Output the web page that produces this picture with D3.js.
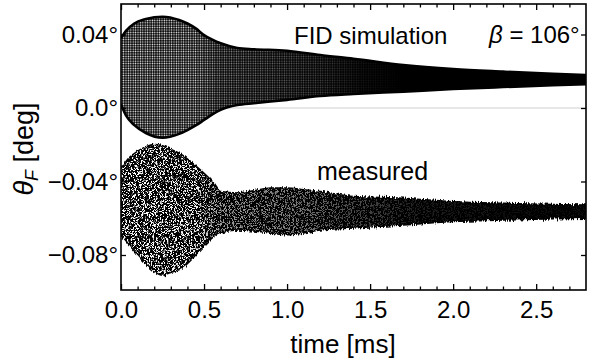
<!DOCTYPE html>
<html>
<head>
<meta charset="utf-8">
<script src="https://cdn.jsdelivr.net/npm/d3@7"></script>
<style>
  body { margin: 0; background: #fff; }
  svg { display: block; font-family: "Liberation Sans", Arial, Helvetica, sans-serif; }
</style>
</head>
<body>
<svg id="chart" width="600" height="360"></svg>
<script>
// Simulated FID: envelope of the oscillating Faraday rotation (degrees)
const simTime  = [0, 0.03, 0.08, 0.15, 0.25, 0.35, 0.4, 0.45, 0.5, 0.55, 0.6, 0.7, 0.8, 1.0, 1.2, 1.4, 1.7, 2.0, 2.3, 2.6, 2.8];
const simUpper = [0.038, 0.042, 0.046, 0.0484, 0.0497, 0.0479, 0.046, 0.0433, 0.0397, 0.0372, 0.0352, 0.0327, 0.032, 0.0312, 0.0288, 0.0268, 0.0234, 0.0212, 0.0198, 0.0186, 0.018];
const simLower = [0.002, -0.004, -0.0093, -0.0136, -0.0162, -0.0141, -0.012, -0.0095, -0.0065, -0.0035, -0.001, 0.0016, 0.0026, 0.0044, 0.0065, 0.0076, 0.0089, 0.0103, 0.0114, 0.0124, 0.0129];

// Measured FID: envelope of the recorded signal (degrees)
const measTime  = [0, 0.05, 0.1, 0.15, 0.2, 0.25, 0.3, 0.37, 0.43, 0.49, 0.55, 0.6, 0.7, 0.8, 0.9, 1.0, 1.1, 1.2, 1.4, 1.7, 2.0, 2.3, 2.6, 2.8];
const measUpper = [-0.033, -0.027, -0.0235, -0.021, -0.0198, -0.0205, -0.0225, -0.0256, -0.030, -0.0347, -0.040, -0.0455, -0.0462, -0.045, -0.0435, -0.0435, -0.0445, -0.0455, -0.0482, -0.0491, -0.051, -0.0519, -0.0525, -0.0528];
const measLower = [-0.069, -0.0745, -0.080, -0.085, -0.089, -0.0909, -0.0895, -0.087, -0.082, -0.076, -0.0707, -0.068, -0.0664, -0.067, -0.068, -0.069, -0.068, -0.0664, -0.0653, -0.0637, -0.0618, -0.061, -0.0603, -0.060];

// Axis ticks and labels
const xTicks = [0, 0.5, 1.0, 1.5, 2.0, 2.5];
const xTickLabels = ["0.0", "0.5", "1.0", "1.5", "2.0", "2.5"];
const xMinorTicks = d3.range(0, 28).map(i => i / 10);
const yTicks = [0.04, 0, -0.04, -0.08];
const yTickLabels = ["0.04°", "0.0°", "\u22120.04°", "\u22120.08°"];

const svg = d3.select("#chart");
const plot = { left: 121, right: 586, top: 4, bottom: 290 };

const x = d3.scaleLinear().domain([0, 2.8]).range([plot.left, plot.right]);
const y = d3.scaleLinear().domain([-0.09905, 0.0566]).range([plot.bottom, plot.top]);

const defs = svg.append("defs");

defs.append("clipPath").attr("id", "plotClip")
  .append("rect")
  .attr("x", plot.left).attr("y", plot.top)
  .attr("width", plot.right - plot.left).attr("height", plot.bottom - plot.top);

// Fine dot texture for the dense simulated oscillation
const dots = defs.append("pattern").attr("id", "simDots")
  .attr("patternUnits", "userSpaceOnUse").attr("width", 2.4).attr("height", 2.4);
dots.append("circle").attr("cx", 1.2).attr("cy", 1.2).attr("r", 0.75).attr("fill", "#fff");

// Horizontal fades: texture visible early, solid black once the signal narrows
function fade(id, stops) {
  const g = defs.append("linearGradient").attr("id", id + "Grad")
    .attr("gradientUnits", "userSpaceOnUse")
    .attr("x1", x(0)).attr("x2", x(2.8)).attr("y1", 0).attr("y2", 0);
  stops.forEach(([t, v]) => {
    const c = Math.round(v * 255);
    g.append("stop").attr("offset", t / 2.8).attr("stop-color", `rgb(${c},${c},${c})`);
  });
  defs.append("mask").attr("id", id)
    .attr("maskUnits", "userSpaceOnUse")
    .attr("x", 0).attr("y", 0).attr("width", 600).attr("height", 360)
    .append("rect").attr("x", 0).attr("y", 0).attr("width", 600).attr("height", 360)
    .attr("fill", `url(#${id}Grad)`);
}
fade("simMask", [[0, 1], [0.45, 0.95], [0.6, 0.6], [0.9, 0.45], [1.2, 0.3], [1.45, 0.1], [1.7, 0], [2.8, 0]]);
fade("measMask", [[0, 1], [0.45, 0.95], [0.6, 0.6], [1.0, 0.5], [1.4, 0.3], [1.8, 0.12], [2.3, 0.06], [2.8, 0.04]]);

// Speckle texture for the noisy measured trace
const speck = defs.append("filter").attr("id", "speck")
  .attr("x", "-5%").attr("y", "-5%").attr("width", "110%").attr("height", "110%");
speck.append("feTurbulence").attr("type", "fractalNoise")
  .attr("baseFrequency", "0.55 0.95").attr("numOctaves", 2).attr("seed", 4).attr("result", "noise");
speck.append("feColorMatrix").attr("in", "noise").attr("type", "matrix")
  .attr("values", "0 0 0 0 1  0 0 0 0 1  0 0 0 0 1  11 0 0 0 -5.6").attr("result", "white");
speck.append("feComposite").attr("in", "white").attr("in2", "SourceAlpha").attr("operator", "in");

// Ragged vertical edges of the measured trace
const rough = defs.append("filter").attr("id", "rough")
  .attr("x", "-2%").attr("y", "-15%").attr("width", "104%").attr("height", "130%");
rough.append("feTurbulence").attr("type", "fractalNoise")
  .attr("baseFrequency", "0.9 0.08").attr("numOctaves", 2).attr("seed", 9).attr("result", "n");
rough.append("feColorMatrix").attr("in", "n").attr("type", "matrix")
  .attr("values", "0 0 0 0 0.5  0 1 0 0 0  0 0 0 0 0  0 0 0 0 1").attr("result", "dy");
rough.append("feDisplacementMap").attr("in", "SourceGraphic").attr("in2", "dy")
  .attr("scale", 6).attr("xChannelSelector", "R").attr("yChannelSelector", "G");

// Zero reference line
svg.append("line")
  .attr("x1", plot.left).attr("x2", plot.right)
  .attr("y1", y(0)).attr("y2", y(0))
  .attr("stroke", "#cfcfcf").attr("stroke-width", 1);

const layer = svg.append("g").attr("clip-path", "url(#plotClip)");

function band(time, upper, lower) {
  return d3.area()
    .x(i => x(time[i]))
    .y0(i => y(lower[i]))
    .y1(i => y(upper[i]))
    .curve(d3.curveMonotoneX)(d3.range(time.length));
}
function outline(time, upper, lower) {
  const line = d3.line().x(i => x(time[i])).curve(d3.curveMonotoneX);
  const idx = d3.range(time.length);
  return line.y(i => y(upper[i]))(idx) + line.y(i => y(lower[i]))(idx);
}

// Simulated FID
const sim = layer.append("g");
const simPath = band(simTime, simUpper, simLower);
sim.append("path").attr("d", simPath).attr("fill", "#000");
sim.append("path").attr("d", simPath).attr("fill", "url(#simDots)").attr("mask", "url(#simMask)");
sim.append("path").attr("d", outline(simTime, simUpper, simLower))
  .attr("fill", "none").attr("stroke", "#000").attr("stroke-width", 2.6);

// Measured FID
const meas = layer.append("g").attr("filter", "url(#rough)");
const measPath = band(measTime, measUpper, measLower);
meas.append("path").attr("d", measPath).attr("fill", "#000");
meas.append("path").attr("d", measPath).attr("fill", "#fff")
  .attr("filter", "url(#speck)").attr("mask", "url(#measMask)");
meas.append("path").attr("d", outline(measTime, measUpper, measLower))
  .attr("fill", "none").attr("stroke", "#000").attr("stroke-width", 1.5);

// Axes (ticks point inward on all four sides)
const tickStroke = 1.3;
function styleAxis(g) {
  g.select(".domain").remove();
  g.selectAll(".tick line").attr("stroke", "#000").attr("stroke-width", tickStroke);
  g.selectAll(".tick text").attr("fill", "#000").attr("font-size", 24);
}

svg.append("g").attr("transform", `translate(0,${plot.bottom})`)
  .call(d3.axisBottom(x).tickValues(xTicks).tickSize(-6).tickPadding(11)
    .tickFormat((d, i) => xTickLabels[i]))
  .call(styleAxis);
svg.append("g").attr("transform", `translate(0,${plot.bottom})`)
  .call(d3.axisBottom(x).tickValues(xMinorTicks.filter(t => !xTicks.includes(t))).tickSize(-3.5).tickFormat(""))
  .call(styleAxis);
svg.append("g").attr("transform", `translate(0,${plot.top})`)
  .call(d3.axisTop(x).tickValues(xTicks).tickSize(-6).tickFormat(""))
  .call(styleAxis);
svg.append("g").attr("transform", `translate(0,${plot.top})`)
  .call(d3.axisTop(x).tickValues(xMinorTicks.filter(t => !xTicks.includes(t))).tickSize(-3.5).tickFormat(""))
  .call(styleAxis);
svg.append("g").attr("transform", `translate(${plot.left},0)`)
  .call(d3.axisLeft(y).tickValues(yTicks).tickSize(-5).tickPadding(3)
    .tickFormat((d, i) => yTickLabels[i]))
  .call(styleAxis);
svg.append("g").attr("transform", `translate(${plot.right},0)`)
  .call(d3.axisRight(y).tickValues(yTicks).tickSize(-5).tickFormat(""))
  .call(styleAxis);

// Frame
svg.append("rect")
  .attr("x", plot.left).attr("y", plot.top)
  .attr("width", plot.right - plot.left).attr("height", plot.bottom - plot.top)
  .attr("fill", "none").attr("stroke", "#000").attr("stroke-width", 1.6);

// Axis titles
svg.append("text")
  .attr("x", 343).attr("y", 353).attr("text-anchor", "middle")
  .attr("font-size", 26).attr("fill", "#000")
  .text("time [ms]");

const yTitle = svg.append("text")
  .attr("transform", "translate(33,149) rotate(-90)")
  .attr("text-anchor", "middle").attr("font-size", 27).attr("fill", "#000");
yTitle.append("tspan").attr("font-style", "italic").text("θ");
yTitle.append("tspan").attr("font-style", "italic").attr("font-size", 18).attr("dy", 5).text("F");
yTitle.append("tspan").attr("dy", -5).text(" [deg]");

// Annotations
svg.append("text").attr("x", 294).attr("y", 44)
  .attr("font-size", 24).attr("fill", "#000").text("FID simulation");
const beta = svg.append("text").attr("x", 489).attr("y", 43)
  .attr("font-size", 24).attr("fill", "#000");
beta.append("tspan").attr("font-style", "italic").text("β");
beta.append("tspan").text(" = 106°");
svg.append("text").attr("x", 317).attr("y", 180)
  .attr("font-size", 25).attr("fill", "#000").text("measured");
</script>
</body>
</html>
